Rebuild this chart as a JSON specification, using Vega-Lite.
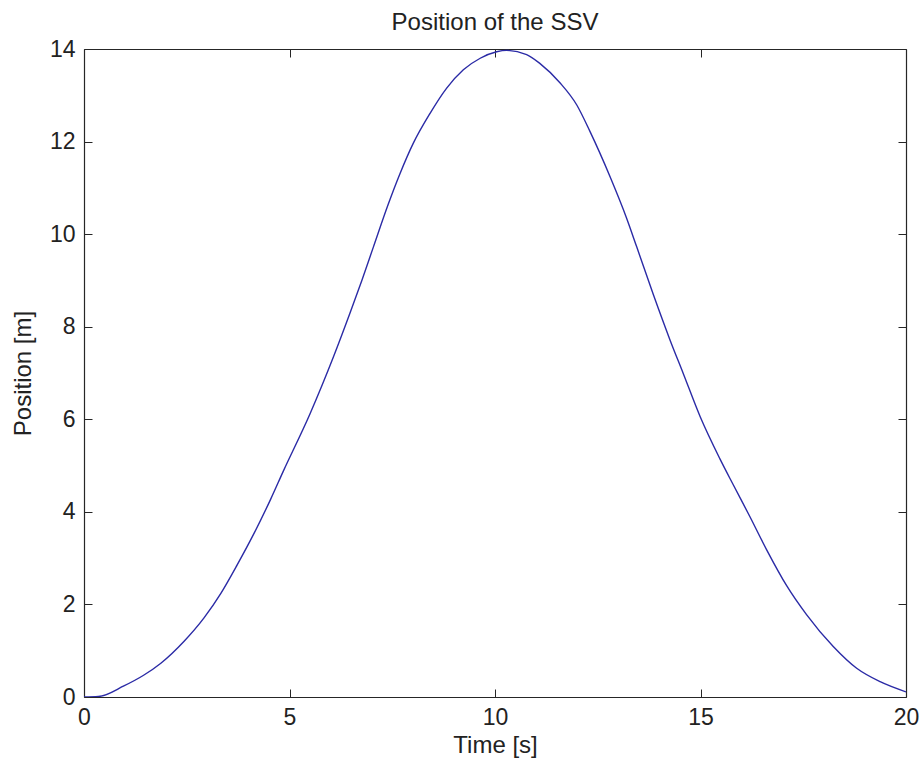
{
  "$schema": "https://vega.github.io/schema/vega-lite/v6.json",
  "width": 822,
  "height": 648,
  "autosize": {"type": "none"},
  "padding": {"left": 84, "top": 49, "right": 17, "bottom": 72},
  "background": "white",
  "title": {"text": "Position of the SSV", "font": "Liberation Sans", "fontSize": 24, "fontWeight": "normal", "color": "#222222", "anchor": "middle", "frame": "group", "offset": 3},
  "data": {"values": [
    {"t": 0, "y": 0},
    {"t": 0.35, "y": 0.01},
    {"t": 0.97, "y": 0.24},
    {"t": 1.45, "y": 0.47},
    {"t": 1.87, "y": 0.73},
    {"t": 2.43, "y": 1.2},
    {"t": 2.92, "y": 1.71},
    {"t": 3.33, "y": 2.24},
    {"t": 3.73, "y": 2.86},
    {"t": 4.14, "y": 3.54},
    {"t": 4.54, "y": 4.27},
    {"t": 4.85, "y": 4.88},
    {"t": 5.5, "y": 6.12},
    {"t": 6.07, "y": 7.35},
    {"t": 6.47, "y": 8.29},
    {"t": 6.76, "y": 9.0},
    {"t": 7.04, "y": 9.72},
    {"t": 7.4, "y": 10.64},
    {"t": 7.69, "y": 11.31},
    {"t": 8.01, "y": 11.96},
    {"t": 8.42, "y": 12.61},
    {"t": 8.82, "y": 13.15},
    {"t": 9.23, "y": 13.55},
    {"t": 9.64, "y": 13.8},
    {"t": 10.04, "y": 13.94},
    {"t": 10.28, "y": 13.97},
    {"t": 10.77, "y": 13.88},
    {"t": 11.09, "y": 13.69},
    {"t": 11.58, "y": 13.27},
    {"t": 11.99, "y": 12.79},
    {"t": 12.31, "y": 12.22},
    {"t": 12.8, "y": 11.24},
    {"t": 13.2, "y": 10.35},
    {"t": 13.45, "y": 9.72},
    {"t": 13.85, "y": 8.7},
    {"t": 14.26, "y": 7.71},
    {"t": 14.58, "y": 6.99},
    {"t": 14.99, "y": 6.06},
    {"t": 15.47, "y": 5.15},
    {"t": 15.8, "y": 4.58},
    {"t": 16.2, "y": 3.9},
    {"t": 16.61, "y": 3.18},
    {"t": 17.1, "y": 2.4},
    {"t": 17.58, "y": 1.78},
    {"t": 18.23, "y": 1.09},
    {"t": 18.8, "y": 0.62},
    {"t": 19.37, "y": 0.33},
    {"t": 20, "y": 0.11}
  ]},
  "layer": [
    {
      "mark": {"type": "line", "color": "#2b2ba6", "strokeWidth": 1.4, "clip": true, "interpolate": "monotone"},
      "encoding": {
        "x": {"field": "t", "type": "quantitative", "scale": {"domain": [0, 20], "nice": false, "zero": false},
          "axis": {"orient": "bottom", "values": [0, 5, 10, 15, 20], "title": "Time [s]", "labelPadding": 17, "titlePadding": 4}},
        "y": {"field": "y", "type": "quantitative", "scale": {"domain": [0, 14], "nice": false},
          "axis": {"orient": "left", "values": [0, 2, 4, 6, 8, 10, 12, 14], "title": "Position [m]", "labelPadding": 17, "titlePadding": 14}}
      }
    },
    {
      "mark": {"type": "line", "opacity": 0},
      "encoding": {
        "x": {"field": "t", "type": "quantitative", "scale": {"domain": [0, 20], "nice": false, "zero": false},
          "axis": {"orient": "top", "values": [0, 5, 10, 15, 20], "title": null, "labels": false}},
        "y": {"field": "y", "type": "quantitative", "scale": {"domain": [0, 14], "nice": false},
          "axis": {"orient": "right", "values": [0, 2, 4, 6, 8, 10, 12, 14], "title": null, "labels": false}}
      }
    }
  ],
  "resolve": {"axis": {"x": "independent", "y": "independent"}},
  "config": {
    "view": {"stroke": null},
    "axis": {
      "grid": false,
      "domainColor": "#262626",
      "domainWidth": 1.2,
      "tickColor": "#262626",
      "tickWidth": 1,
      "tickSize": -8,
      "labelFont": "Liberation Sans",
      "labelFontSize": 23,
      "labelColor": "#222222",
      "labelFlush": false,
      "labelOverlap": false,
      "titleFont": "Liberation Sans",
      "titleFontSize": 24,
      "titleFontWeight": "normal",
      "titleColor": "#222222"
    }
  }
}
